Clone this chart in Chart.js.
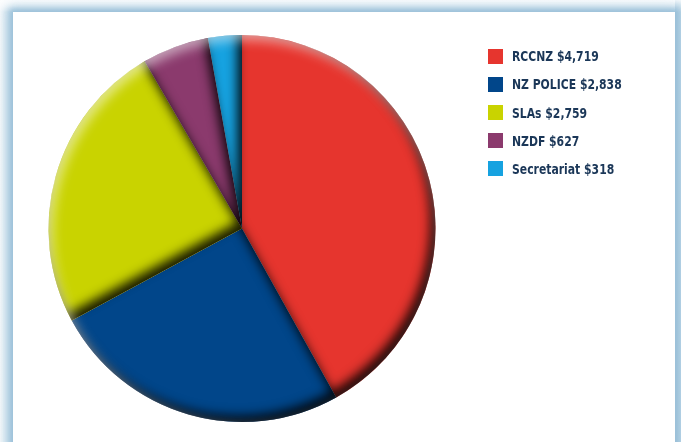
<!DOCTYPE html>
<html>
<head>
<meta charset="utf-8">
<script src="https://cdn.jsdelivr.net/npm/chart.js@4/dist/chart.umd.min.js"></script>
<style>
  html, body { margin:0; padding:0; width:681px; height:442px; overflow:hidden; background:#ffffff; }
  #frame { position:absolute; left:0; top:0; width:681px; height:442px; overflow:hidden;
    background: linear-gradient(to bottom, #ffffff 0px, #e8f1f7 6px, #c0d9e8 12px); }
  #panel { position:absolute; left:13px; top:12px; width:662px; height:460px; background:#ffffff;
    box-shadow: 0 0 6px 3px rgba(150,190,215,0.9), 0 0 14px 6px rgba(180,210,228,0.7); }
  #rightstrip { position:absolute; left:675px; top:0; width:6px; height:442px;
    background: linear-gradient(to right, #9fc3da, #b9d5e6); }
  #topfade { position:absolute; left:0; top:0; width:681px; height:12px;
    background: linear-gradient(to bottom, rgba(255,255,255,0.9), rgba(255,255,255,0)); }
  #leftfade { position:absolute; left:0; top:0; width:13px; height:442px;
    background: linear-gradient(to right, rgba(255,255,255,0.9), rgba(255,255,255,0)); }
  canvas { position:absolute; left:0; top:0; }
  #legend { position:absolute; left:488px; top:0; font-family:"DejaVu Sans Condensed","DejaVu Sans",sans-serif;
    font-weight:bold; font-size:14px; color:#1b3758; }
  .item { position:absolute; left:0; height:16px; white-space:nowrap; display:flex; align-items:center; }
  .box { width:15px; height:15px; margin-right:9px; flex:none; }
  .txt { display:inline-block; transform:scaleX(0.86); transform-origin:left center; }
</style>
</head>
<body>
<div id="frame">
  <div id="rightstrip"></div>
  <div id="topfade"></div>
  <div id="leftfade"></div>
  <div id="panel"></div>
</div>
<canvas id="c" width="681" height="442"></canvas>
<div id="legend"></div>
<script>
const categories = ["RCCNZ", "NZ POLICE", "SLAs", "NZDF", "Secretariat"];
const values = [4719, 2838, 2759, 627, 318];
const legendLabels = ["RCCNZ $4,719", "NZ POLICE $2,838", "SLAs $2,759", "NZDF $627", "Secretariat $318"];
const colors = ["#e6352e", "#01468a", "#c9d300", "#8b3a6d", "#16a2e0"];

const shade = {
  id: 'shade',
  afterDatasetsDraw(chart) {
    const ctx = chart.ctx;
    const meta = chart.getDatasetMeta(0);
    const OFF = 5000;
    let cx = 0, cy = 0, R = 0;
    meta.data.forEach(arc => {
      const p = arc.getProps(['x', 'y', 'startAngle', 'endAngle', 'outerRadius'], true);
      cx = p.x; cy = p.y; R = p.outerRadius;
      ctx.save();
      ctx.beginPath();
      ctx.moveTo(p.x, p.y);
      ctx.arc(p.x, p.y, R, p.startAngle, p.endAngle);
      ctx.closePath();
      ctx.clip();
      ctx.beginPath();
      ctx.rect(p.x - 3 * R + OFF, p.y - 3 * R, 6 * R, 6 * R);
      ctx.moveTo(p.x + OFF, p.y);
      ctx.arc(p.x + OFF, p.y, R, p.startAngle, p.endAngle);
      ctx.closePath();
      ctx.fillStyle = '#000';
      ctx.shadowColor = 'rgba(0,0,0,0.88)';
      ctx.shadowBlur = 11;
      ctx.shadowOffsetX = -OFF - 5;
      ctx.shadowOffsetY = -6;
      ctx.fill('evenodd');
      ctx.restore();
    });
    // highlight on top-left rim
    ctx.save();
    ctx.beginPath();
    ctx.arc(cx, cy, R, 0, Math.PI * 2);
    ctx.clip();
    ctx.beginPath();
    ctx.rect(cx - 3 * R + OFF, cy - 3 * R, 6 * R, 6 * R);
    ctx.arc(cx + OFF, cy, R, 0, Math.PI * 2);
    ctx.fillStyle = '#fff';
    ctx.shadowColor = 'rgba(255,255,255,0.55)';
    ctx.shadowBlur = 12;
    ctx.shadowOffsetX = -OFF + 4;
    ctx.shadowOffsetY = 5;
    ctx.fill('evenodd');
    ctx.restore();
  }
};

const chart = new Chart(document.getElementById('c'), {
  type: 'pie',
  data: {
    labels: legendLabels,
    datasets: [{
      data: values,
      backgroundColor: colors,
      borderWidth: 0
    }]
  },
  options: {
    responsive: false,
    animation: false,
    layout: { padding: { left: 48, right: 245, top: 35, bottom: 20 } },
    plugins: {
      legend: { display: false },
      tooltip: { enabled: false }
    }
  },
  plugins: [shade]
});

// HTML legend built from the chart's own legend labels
const rowsY = [56, 84, 112.5, 140.5, 168.5];
const items = chart.options.plugins.legend.labels.generateLabels(chart);
const lg = document.getElementById('legend');
items.forEach((it, i) => {
  const d = document.createElement('div');
  d.className = 'item';
  d.style.top = (rowsY[i] - 8) + 'px';
  const b = document.createElement('span');
  b.className = 'box';
  b.style.background = it.fillStyle;
  const t = document.createElement('span');
  t.className = 'txt';
  t.textContent = it.text;
  d.appendChild(b); d.appendChild(t);
  lg.appendChild(d);
});
</script>
</body>
</html>
